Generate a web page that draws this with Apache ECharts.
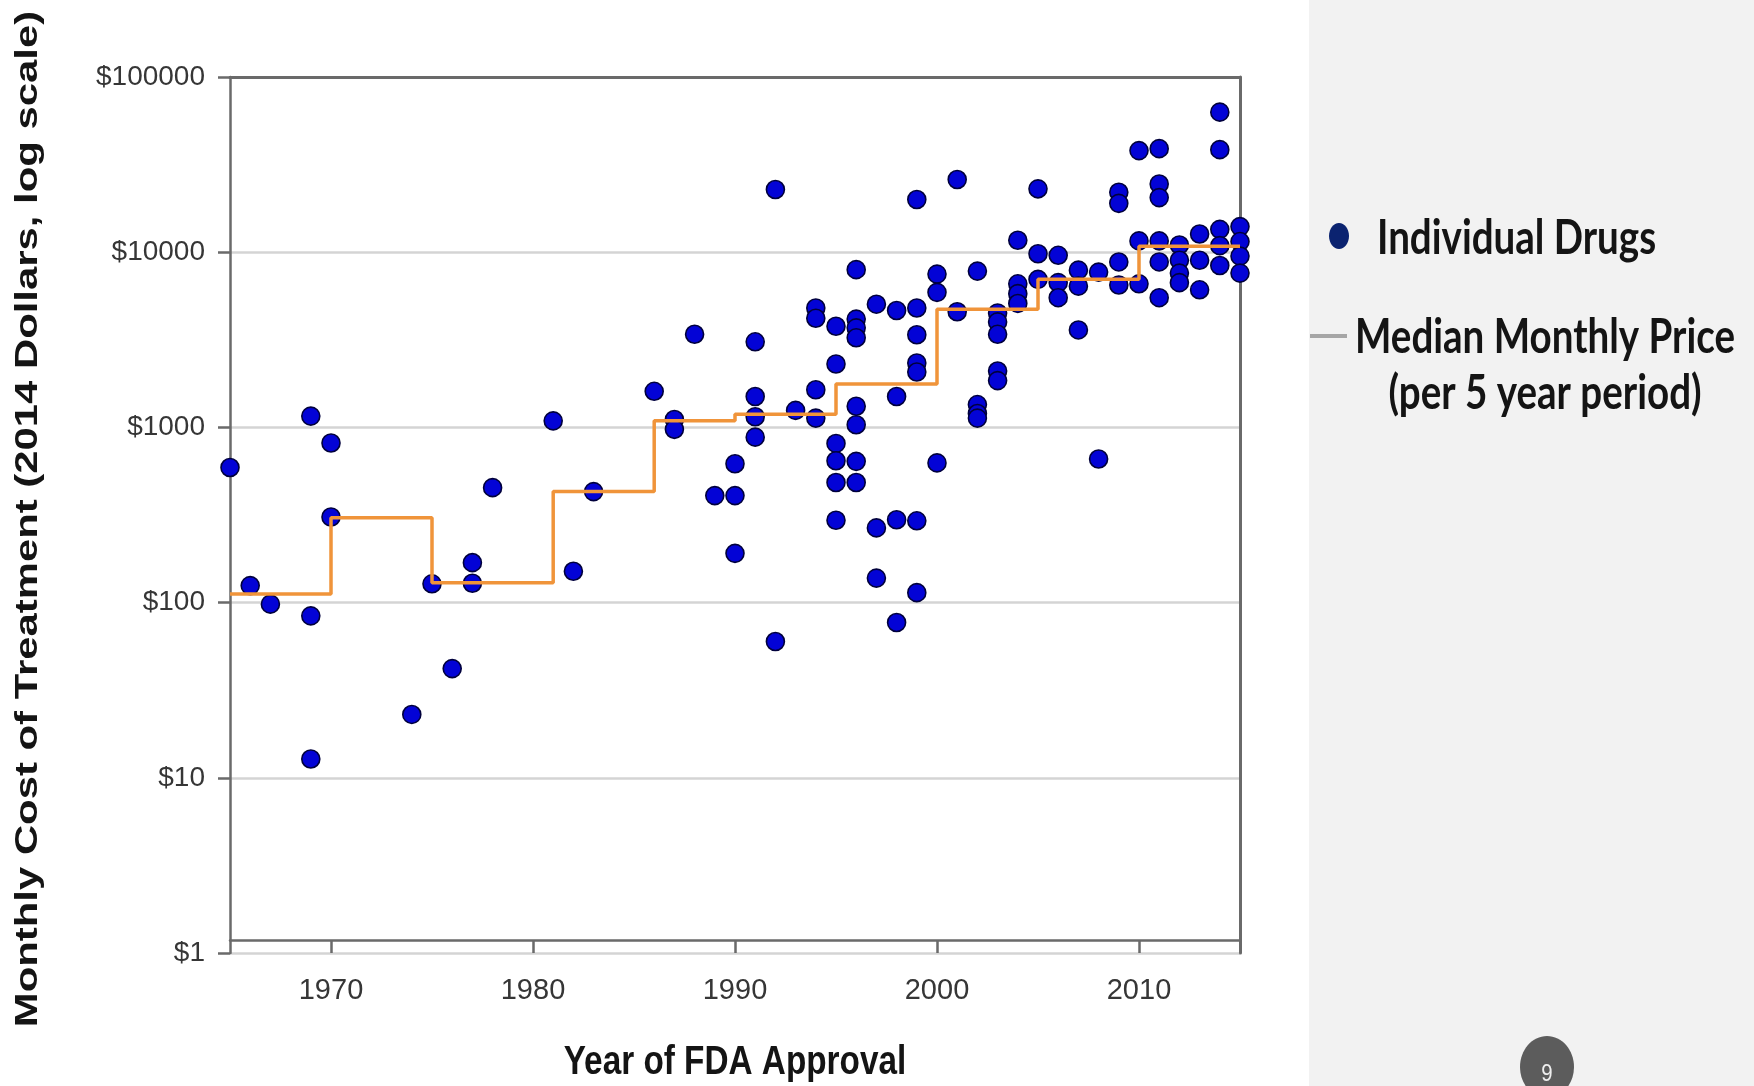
<!DOCTYPE html>
<html>
<head>
<meta charset="utf-8">
<script src="https://cdn.jsdelivr.net/npm/echarts@6/dist/echarts.min.js"></script>
<style>
html,body{margin:0;padding:0;background:#ffffff;}
#chart{width:1754px;height:1086px;}
</style>
</head>
<body>
<div id="chart"></div>
<script>
// ---- data ----
const drugYears = [
  1965,1966,1967,1969,1969,1969,1970,1970,1974,1975,1976,1977,1977,1978,
  1981,1982,1983,1986,1987,1987,1988,1989,1990,1990,1990,
  1991,1991,1991,1991,1992,1992,1993,1994,1994,1994,1994,
  1995,1995,1995,1995,1995,1995,
  1996,1996,1996,1996,1996,1996,1996,1996,
  1997,1997,1997,1998,1998,1998,1998,
  1999,1999,1999,1999,1999,1999,1999,
  2000,2000,2000,2001,2001,2002,2002,2002,2002,
  2003,2003,2003,2003,2003,2004,2004,2004,2004,
  2005,2005,2005,2006,2006,2006,2007,2007,2007,2008,2008,
  2009,2009,2009,2009,2010,2010,2010,
  2011,2011,2011,2011,2011,2011,2012,2012,2012,2012,
  2013,2013,2013,2014,2014,2014,2014,2014,2015,2015,2015,2015
];
const drugPrices = [
  590,125,98,1160,84,12.8,815,308,23,128,42,169,129,453,
  1090,151,430,1607,1110,975,3400,408,620,408,191,
  3080,1500,1150,880,22800,60,1250,4800,4200,1640,1130,
  3780,2300,810,645,485,295,
  7950,4150,3700,3250,1320,1035,640,485,
  5050,267,138,4650,1500,297,77,
  20000,4800,3380,2330,2070,293,114,
  7500,5900,627,26000,4570,7800,1350,1200,1130,
  4500,4000,3400,2100,1850,11700,6600,5800,5100,
  23000,9800,7000,9600,6700,5500,7900,6400,3600,7700,660,
  22000,19000,8800,6500,38000,11600,6600,
  39000,24500,20500,11600,8800,5500,11000,9000,7600,6700,
  12700,9000,6100,63000,38500,13500,10900,8400,14000,11500,9500,7600
];
// median monthly price per period (value holds from period start to next start)
const medianYears  = [1965,1970,1975,1981,1986,1990,1995,2000,2005,2010,2015];
const medianPrices = [112, 305, 130, 430, 1090,1190,1770,4720,7000,10800,10800];

const xTickLabels = [1970,1980,1990,2000,2010];
const yTickValues = [1,10,100,1000,10000,100000];

const seriesNames = ['Individual Drugs','Median Monthly Price (per 5 year period)'];

// ---- build ----
const drugData = drugYears.map((y,i)=>[y, drugPrices[i]]);
const medianData = medianYears.map((y,i)=>[y, medianPrices[i]]);

const chart = echarts.init(document.getElementById('chart'), null, {renderer:'canvas'});
const axisColor = '#6a6a6a';
const labelFont = 'Liberation Sans, Arial, sans-serif';

chart.setOption({
  animation:false,
  backgroundColor:'#ffffff',
  grid:{left:230, right:514, top:77, bottom:133, containLabel:false, outerBoundsMode:'none'},
  xAxis:[{
    type:'value', min:1965, max:2015, position:'bottom', offset:-13,
    axisLine:{show:true, onZero:false, lineStyle:{color:axisColor, width:2.5}},
    axisTick:{show:true, length:13, customValues:xTickLabels, lineStyle:{color:axisColor, width:2.5}},
    axisLabel:{show:true, customValues:xTickLabels, margin:36, fontSize:29, color:'#363636',
      fontFamily:labelFont, formatter:v=>String(v)},
    splitLine:{show:false}
  },{
    type:'value', min:1965, max:2015, position:'top',
    axisLine:{show:true, onZero:false, lineStyle:{color:axisColor, width:3}},
    axisTick:{show:false}, axisLabel:{show:false}, splitLine:{show:false}
  }],
  yAxis:[{
    type:'log', logBase:10, min:1, max:100000, position:'left',
    axisLine:{show:true, onZero:false, lineStyle:{color:axisColor, width:2.5}},
    axisTick:{show:true, length:12, customValues:yTickValues, lineStyle:{color:axisColor, width:2.5}},
    axisLabel:{show:true, customValues:yTickValues, margin:25, fontSize:28, color:'#363636',
      fontFamily:labelFont, formatter:v=>'$'+Math.round(v)},
    splitLine:{show:true, lineStyle:{color:'#d4d4d4', width:2.5}}
  },{
    type:'log', logBase:10, min:1, max:100000, position:'right',
    axisLine:{show:true, onZero:false, lineStyle:{color:axisColor, width:3}},
    axisTick:{show:false}, axisLabel:{show:false}, splitLine:{show:false}
  }],
  series:[{
    name:seriesNames[0], type:'scatter', data:drugData, symbol:'circle', symbolSize:18,
    clip:false, z:2,
    itemStyle:{color:'#0303d6', opacity:1, borderColor:'#00003c', borderWidth:1.6}
  },{
    name:seriesNames[1], type:'line', data:medianData, step:'end', showSymbol:false,
    symbol:'none', clip:false, z:3,
    lineStyle:{color:'#F0943A', width:3.5, opacity:1}
  }],
  graphic:[
    {type:'rect', z:-10, silent:true, shape:{x:1309, y:0, width:445, height:1086}, style:{fill:'#f2f2f2'}},
    // legend
    {type:'ellipse', shape:{cx:1339, cy:236, rx:10, ry:13}, style:{fill:'#0b2370'}},
    {type:'text', x:1377, y:239, scaleX:0.82,
      style:{text:'Individual Drugs', font:'bold 47px Lato, sans-serif', fill:'#141414',
        align:'left', verticalAlign:'middle', textAlign:'left', textVerticalAlign:'middle'}},
    {type:'line', shape:{x1:1310, y1:336, x2:1347, y2:336}, style:{stroke:'#a6a6a6', lineWidth:4}},
    {type:'text', x:1545, y:338, scaleX:0.82,
      style:{text:'Median Monthly Price', font:'bold 47px Lato, sans-serif', fill:'#141414',
        align:'center', verticalAlign:'middle', textAlign:'center', textVerticalAlign:'middle'}},
    {type:'text', x:1545, y:394, scaleX:0.82,
      style:{text:'(per 5 year period)', font:'bold 47px Lato, sans-serif', fill:'#141414',
        align:'center', verticalAlign:'middle', textAlign:'center', textVerticalAlign:'middle'}},
    // axis titles
    {type:'text', x:735, y:1063, scaleX:0.833,
      style:{text:'Year of FDA Approval', font:'bold 40px Liberation Sans, Arial, sans-serif', fill:'#141414',
        align:'center', verticalAlign:'middle', textAlign:'center', textVerticalAlign:'middle'}},
    {type:'text', x:28, y:519, rotation:Math.PI/2, scaleX:1.35,
      style:{text:'Monthly Cost of Treatment (2014 Dollars, log scale)', font:'bold 31px Liberation Sans, Arial, sans-serif',
        fill:'#141414', align:'center', verticalAlign:'middle', textAlign:'center', textVerticalAlign:'middle'}},
    // slide number
    {type:'ellipse', shape:{cx:1547, cy:1067, rx:27, ry:31}, style:{fill:'#5c5c5c'}},
    {type:'text', x:1547, y:1074, scaleX:0.85,
      style:{text:'9', font:'24px Liberation Sans, Arial, sans-serif', fill:'#eeeeee',
        align:'center', verticalAlign:'middle', textAlign:'center', textVerticalAlign:'middle'}}
  ]
});
</script>
</body>
</html>
